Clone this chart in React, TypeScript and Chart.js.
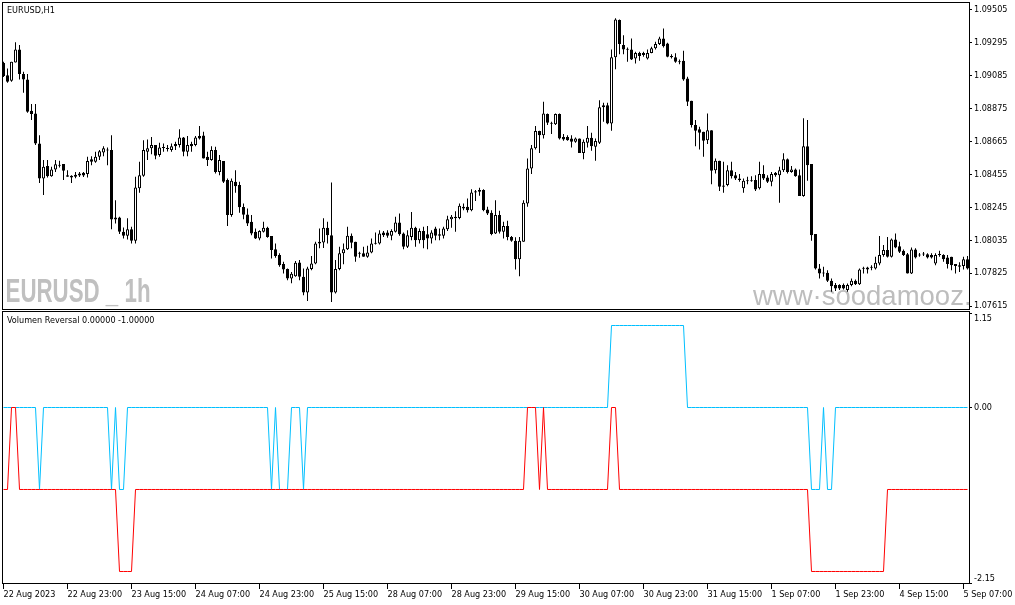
import React, { useEffect, useRef } from "react";
import { Chart, registerables } from "chart.js";

Chart.register(...registerables);

const AXIS_FONT = '"DejaVu Sans Condensed", "DejaVu Sans", sans-serif';

const symbolTitle = "EURUSD,H1";
const indicatorTitle = "Volumen Reversal 0.00000 -1.00000";
const watermarkLeft = "EURUSD _ 1h";
const watermarkRight = "www·soodamooz.com";

const timeLabels = [
  "22 Aug 2023", "22 Aug 23:00", "23 Aug 15:00", "24 Aug 07:00", "24 Aug 23:00", "25 Aug 15:00",
  "28 Aug 07:00", "28 Aug 23:00", "29 Aug 15:00", "30 Aug 07:00", "30 Aug 23:00", "31 Aug 15:00",
  "1 Sep 07:00", "1 Sep 23:00", "4 Sep 15:00", "5 Sep 07:00",
];
const timeLabelBars = [0, 16, 32, 48, 64, 80, 96, 112, 128, 144, 160, 176, 192, 208, 224, 240];

const priceTicks = [1.07615, 1.07825, 1.08035, 1.08245, 1.08455, 1.08665, 1.08875, 1.09085, 1.09295, 1.09505];
const indicatorTicks = [1.15, 0, -2.15];

const openPrices = [
  1.09163, 1.09086, 1.09050, 1.09167, 1.09250, 1.09093, 1.09059, 1.08859, 1.08842, 1.08651,
  1.08428, 1.08507, 1.08443, 1.08486, 1.08513, 1.08520, 1.08449, 1.08445, 1.08439, 1.08447,
  1.08464, 1.08456, 1.08550, 1.08534, 1.08566, 1.08594, 1.08612, 1.08609, 1.08167, 1.08180,
  1.08088, 1.08063, 1.08104, 1.08031, 1.08365, 1.08445, 1.08598, 1.08620, 1.08641, 1.08577,
  1.08626, 1.08620, 1.08609, 1.08647, 1.08641, 1.08689, 1.08598, 1.08647, 1.08641, 1.08698,
  1.08702, 1.08566, 1.08545, 1.08609, 1.08470, 1.08539, 1.08418, 1.08195, 1.08407, 1.08386,
  1.08246, 1.08199, 1.08152, 1.08088, 1.08046, 1.08088, 1.08114, 1.08061, 1.07978, 1.07940,
  1.07884, 1.07851, 1.07791, 1.07806, 1.07893, 1.07802, 1.07702, 1.07851, 1.07887, 1.08014,
  1.08021, 1.08114, 1.08067, 1.07702, 1.07851, 1.07951, 1.07978, 1.08063, 1.08025, 1.07949,
  1.07951, 1.07929, 1.07957, 1.08014, 1.08014, 1.08084, 1.08084, 1.08063, 1.08088, 1.08148,
  1.08078, 1.07993, 1.08056, 1.08114, 1.08035, 1.08093, 1.08072, 1.08046, 1.08110, 1.08072,
  1.08063, 1.08105, 1.08169, 1.08174, 1.08177, 1.08248, 1.08248, 1.08226, 1.08339, 1.08343,
  1.08354, 1.08231, 1.08209, 1.08078, 1.08195, 1.08088, 1.08125, 1.08056, 1.08031, 1.07913,
  1.08025, 1.08269, 1.08492, 1.08620, 1.08730, 1.08704, 1.08838, 1.08781, 1.08774, 1.08838,
  1.08693, 1.08693, 1.08683, 1.08662, 1.08683, 1.08591, 1.08655, 1.08687, 1.08630, 1.08655,
  1.08881, 1.08895, 1.08779, 1.09200, 1.09437, 1.09278, 1.09250, 1.09250, 1.09193, 1.09228,
  1.09214, 1.09193, 1.09228, 1.09257, 1.09284, 1.09320, 1.09288, 1.09208, 1.09200, 1.09171,
  1.09178, 1.09065, 1.08923, 1.08768, 1.08741, 1.08725, 1.08672, 1.08736, 1.08481, 1.08541,
  1.08375, 1.08386, 1.08481, 1.08449, 1.08428, 1.08365, 1.08413, 1.08411, 1.08418, 1.08365,
  1.08456, 1.08435, 1.08407, 1.08464, 1.08449, 1.08481, 1.08550, 1.08470, 1.08486, 1.08449,
  1.08316, 1.08634, 1.08520, 1.08074, 1.07855, 1.07823, 1.07827, 1.07776, 1.07749, 1.07749,
  1.07749, 1.07717, 1.07749, 1.07776, 1.07755, 1.07853, 1.07849, 1.07861, 1.07855, 1.07887,
  1.07940, 1.07972, 1.07929, 1.08040, 1.07997, 1.07967, 1.07946, 1.07823, 1.07976, 1.07942,
  1.07944, 1.07946, 1.07940, 1.07887, 1.07940, 1.07940, 1.07925, 1.07929, 1.07883, 1.07865,
  1.07870, 1.07913,
];

const highPrices = [
  1.09171, 1.09129, 1.09171, 1.09295, 1.09278, 1.09108, 1.09093, 1.08902, 1.08902, 1.08704,
  1.08545, 1.08545, 1.08502, 1.08545, 1.08541, 1.08520, 1.08481, 1.08449, 1.08469, 1.08470,
  1.08470, 1.08566, 1.08570, 1.08598, 1.08609, 1.08634, 1.08626, 1.08704, 1.08290, 1.08184,
  1.08116, 1.08174, 1.08120, 1.08439, 1.08534, 1.08672, 1.08677, 1.08693, 1.08641, 1.08655,
  1.08651, 1.08641, 1.08651, 1.08662, 1.08741, 1.08693, 1.08698, 1.08662, 1.08698, 1.08762,
  1.08725, 1.08598, 1.08634, 1.08630, 1.08577, 1.08539, 1.08428, 1.08428, 1.08481, 1.08407,
  1.08269, 1.08237, 1.08195, 1.08110, 1.08099, 1.08152, 1.08120, 1.08061, 1.08014, 1.07951,
  1.07897, 1.07855, 1.07833, 1.07902, 1.07908, 1.07855, 1.07865, 1.07935, 1.08025, 1.08110,
  1.08174, 1.08152, 1.08403, 1.07908, 1.07993, 1.08014, 1.08120, 1.08078, 1.08025, 1.07961,
  1.07993, 1.07999, 1.08046, 1.08084, 1.08099, 1.08093, 1.08099, 1.08105, 1.08184, 1.08205,
  1.08084, 1.08099, 1.08215, 1.08120, 1.08110, 1.08120, 1.08126, 1.08099, 1.08120, 1.08110,
  1.08120, 1.08190, 1.08195, 1.08220, 1.08269, 1.08269, 1.08301, 1.08360, 1.08354, 1.08369,
  1.08360, 1.08248, 1.08226, 1.08290, 1.08222, 1.08152, 1.08159, 1.08061, 1.08053, 1.08056,
  1.08290, 1.08556, 1.08641, 1.08762, 1.08732, 1.08916, 1.08842, 1.08789, 1.08842, 1.08842,
  1.08711, 1.08704, 1.08704, 1.08689, 1.08683, 1.08677, 1.08762, 1.08719, 1.08683, 1.08927,
  1.08910, 1.08910, 1.09250, 1.09448, 1.09441, 1.09341, 1.09263, 1.09320, 1.09235, 1.09235,
  1.09235, 1.09250, 1.09267, 1.09299, 1.09330, 1.09384, 1.09292, 1.09220, 1.09225, 1.09186,
  1.09241, 1.09076, 1.08923, 1.08800, 1.08757, 1.08725, 1.08842, 1.08736, 1.08556, 1.08541,
  1.08534, 1.08513, 1.08534, 1.08470, 1.08456, 1.08428, 1.08439, 1.08443, 1.08449, 1.08534,
  1.08513, 1.08449, 1.08470, 1.08470, 1.08502, 1.08588, 1.08556, 1.08507, 1.08492, 1.08486,
  1.08811, 1.08800, 1.08520, 1.08074, 1.07883, 1.07865, 1.07844, 1.07791, 1.07763, 1.07755,
  1.07759, 1.07759, 1.07791, 1.07785, 1.07855, 1.07865, 1.07865, 1.07876, 1.07929, 1.08061,
  1.08004, 1.08056, 1.08046, 1.08078, 1.08025, 1.07976, 1.07954, 1.07988, 1.07983, 1.07954,
  1.07959, 1.07951, 1.07951, 1.07951, 1.07967, 1.07946, 1.07940, 1.07929, 1.07883, 1.07895,
  1.07929, 1.07934,
];

const lowPrices = [
  1.09074, 1.09037, 1.09044, 1.09167, 1.09059, 1.08974, 1.08846, 1.08800, 1.08641, 1.08400,
  1.08322, 1.08435, 1.08439, 1.08470, 1.08498, 1.08418, 1.08439, 1.08400, 1.08430, 1.08437,
  1.08437, 1.08435, 1.08513, 1.08528, 1.08545, 1.08570, 1.08513, 1.08104, 1.08142, 1.08074,
  1.08046, 1.08040, 1.08014, 1.08014, 1.08337, 1.08439, 1.08545, 1.08583, 1.08551, 1.08566,
  1.08598, 1.08600, 1.08598, 1.08609, 1.08626, 1.08570, 1.08570, 1.08598, 1.08634, 1.08677,
  1.08556, 1.08507, 1.08541, 1.08460, 1.08449, 1.08400, 1.08125, 1.08184, 1.08337, 1.08209,
  1.08169, 1.08126, 1.08067, 1.08042, 1.08035, 1.08084, 1.08050, 1.07919, 1.07923, 1.07865,
  1.07823, 1.07780, 1.07760, 1.07802, 1.07780, 1.07685, 1.07647, 1.07844, 1.07881, 1.07983,
  1.07986, 1.08014, 1.07642, 1.07695, 1.07844, 1.07881, 1.07972, 1.07983, 1.07897, 1.07923,
  1.07929, 1.07923, 1.07951, 1.08008, 1.08008, 1.08056, 1.08050, 1.08035, 1.08084, 1.08063,
  1.07978, 1.07986, 1.08035, 1.07993, 1.08014, 1.07983, 1.07978, 1.08014, 1.08035, 1.08035,
  1.08046, 1.08093, 1.08114, 1.08088, 1.08169, 1.08226, 1.08212, 1.08220, 1.08284, 1.08318,
  1.08220, 1.08195, 1.08067, 1.08074, 1.08078, 1.08046, 1.08035, 1.08025, 1.07849, 1.07806,
  1.08025, 1.08248, 1.08456, 1.08613, 1.08591, 1.08683, 1.08768, 1.08711, 1.08768, 1.08677,
  1.08668, 1.08668, 1.08626, 1.08655, 1.08591, 1.08550, 1.08626, 1.08604, 1.08541, 1.08647,
  1.08789, 1.08774, 1.08732, 1.09123, 1.09220, 1.09220, 1.09171, 1.09182, 1.09161, 1.09178,
  1.09203, 1.09186, 1.09225, 1.09250, 1.09278, 1.09263, 1.09200, 1.09193, 1.09165, 1.09156,
  1.09050, 1.08889, 1.08753, 1.08634, 1.08613, 1.08566, 1.08647, 1.08392, 1.08460, 1.08349,
  1.08337, 1.08379, 1.08428, 1.08418, 1.08407, 1.08337, 1.08392, 1.08407, 1.08349, 1.08358,
  1.08418, 1.08400, 1.08379, 1.08439, 1.08273, 1.08470, 1.08460, 1.08464, 1.08439, 1.08316,
  1.08311, 1.08413, 1.08031, 1.07849, 1.07791, 1.07802, 1.07769, 1.07706, 1.07712, 1.07717,
  1.07721, 1.07706, 1.07742, 1.07749, 1.07749, 1.07823, 1.07823, 1.07844, 1.07849, 1.07876,
  1.07929, 1.07925, 1.07925, 1.07983, 1.07954, 1.07934, 1.07823, 1.07819, 1.07919, 1.07929,
  1.07934, 1.07919, 1.07919, 1.07876, 1.07929, 1.07897, 1.07855, 1.07844, 1.07823, 1.07832,
  1.07849, 1.07849,
];

const closePrices = [
  1.09080, 1.09044, 1.09171, 1.09250, 1.09093, 1.09059, 1.08853, 1.08838, 1.08651, 1.08428,
  1.08502, 1.08443, 1.08486, 1.08518, 1.08509, 1.08477, 1.08439, 1.08435, 1.08451, 1.08460,
  1.08447, 1.08539, 1.08534, 1.08566, 1.08602, 1.08620, 1.08606, 1.08167, 1.08180, 1.08088,
  1.08063, 1.08104, 1.08031, 1.08371, 1.08449, 1.08609, 1.08620, 1.08641, 1.08572, 1.08626,
  1.08622, 1.08616, 1.08634, 1.08634, 1.08689, 1.08598, 1.08641, 1.08634, 1.08689, 1.08683,
  1.08556, 1.08545, 1.08609, 1.08470, 1.08545, 1.08407, 1.08195, 1.08413, 1.08379, 1.08244,
  1.08197, 1.08142, 1.08078, 1.08046, 1.08093, 1.08114, 1.08056, 1.07972, 1.07935, 1.07876,
  1.07849, 1.07791, 1.07821, 1.07891, 1.07802, 1.07702, 1.07855, 1.07887, 1.08014, 1.08025,
  1.08114, 1.08067, 1.07702, 1.07851, 1.07951, 1.07978, 1.08063, 1.08018, 1.07929, 1.07953,
  1.07929, 1.07957, 1.08014, 1.08012, 1.08078, 1.08067, 1.08063, 1.08093, 1.08148, 1.08072,
  1.07993, 1.08067, 1.08114, 1.08035, 1.08093, 1.08035, 1.08046, 1.08084, 1.08063, 1.08063,
  1.08110, 1.08169, 1.08184, 1.08184, 1.08254, 1.08237, 1.08226, 1.08339, 1.08347, 1.08354,
  1.08226, 1.08205, 1.08074, 1.08195, 1.08088, 1.08125, 1.08056, 1.08031, 1.07913, 1.08031,
  1.08273, 1.08492, 1.08620, 1.08730, 1.08704, 1.08842, 1.08783, 1.08777, 1.08838, 1.08683,
  1.08677, 1.08672, 1.08662, 1.08683, 1.08591, 1.08662, 1.08687, 1.08634, 1.08666, 1.08881,
  1.08895, 1.08779, 1.09200, 1.09441, 1.09284, 1.09250, 1.09248, 1.09186, 1.09228, 1.09208,
  1.09228, 1.09228, 1.09257, 1.09284, 1.09320, 1.09271, 1.09203, 1.09200, 1.09171, 1.09169,
  1.09059, 1.08916, 1.08768, 1.08732, 1.08719, 1.08668, 1.08736, 1.08477, 1.08541, 1.08375,
  1.08383, 1.08481, 1.08443, 1.08428, 1.08418, 1.08413, 1.08411, 1.08413, 1.08358, 1.08456,
  1.08428, 1.08407, 1.08456, 1.08449, 1.08481, 1.08550, 1.08470, 1.08486, 1.08443, 1.08316,
  1.08634, 1.08513, 1.08067, 1.07855, 1.07823, 1.07827, 1.07776, 1.07742, 1.07728, 1.07728,
  1.07728, 1.07749, 1.07776, 1.07755, 1.07849, 1.07855, 1.07861, 1.07859, 1.07891, 1.07940,
  1.07972, 1.07929, 1.08040, 1.07988, 1.07961, 1.07940, 1.07823, 1.07976, 1.07925, 1.07938,
  1.07948, 1.07925, 1.07925, 1.07940, 1.07942, 1.07913, 1.07883, 1.07876, 1.07870, 1.07876,
  1.07913, 1.07855,
];

// Volumen Reversal buffers (cyan and red)
const reversalUp = [
  0, 0, 0, 0, 0, 0, 0, 0, 0, -1, 0, 0, 0, 0, 0, 0,
  0, 0, 0, 0, 0, 0, 0, 0, 0, 0, 0, -1, 0, -1, -1, 0,
  0, 0, 0, 0, 0, 0, 0, 0, 0, 0, 0, 0, 0, 0, 0, 0,
  0, 0, 0, 0, 0, 0, 0, 0, 0, 0, 0, 0, 0, 0, 0, 0,
  0, 0, 0, -1, 0, -1, -1, -1, 0, 0, 0, -1, 0, 0, 0, 0,
  0, 0, 0, 0, 0, 0, 0, 0, 0, 0, 0, 0, 0, 0, 0, 0,
  0, 0, 0, 0, 0, 0, 0, 0, 0, 0, 0, 0, 0, 0, 0, 0,
  0, 0, 0, 0, 0, 0, 0, 0, 0, 0, 0, 0, 0, 0, 0, 0,
  0, 0, 0, 0, 0, 0, 0, 0, 0, 0, 0, 0, 0, 0, 0, 0,
  0, 0, 0, 0, 0, 0, 0, 0, 1, 1, 1, 1, 1, 1, 1, 1,
  1, 1, 1, 1, 1, 1, 1, 1, 1, 1, 1, 0, 0, 0, 0, 0,
  0, 0, 0, 0, 0, 0, 0, 0, 0, 0, 0, 0, 0, 0, 0, 0,
  0, 0, 0, 0, 0, 0, 0, 0, 0, 0, -1, -1, -1, 0, -1, -1,
  0, 0, 0, 0, 0, 0, 0, 0, 0, 0, 0, 0, 0, 0, 0, 0,
  0, 0, 0, 0, 0, 0, 0, 0, 0, 0, 0, 0, 0, 0, 0, 0,
  0, 0,
];

const reversalDown = [
  -1, -1, 0, 0, -1, -1, -1, -1, -1, -1, -1, -1, -1, -1, -1, -1,
  -1, -1, -1, -1, -1, -1, -1, -1, -1, -1, -1, -1, -1, -2, -2, -2,
  -2, -1, -1, -1, -1, -1, -1, -1, -1, -1, -1, -1, -1, -1, -1, -1,
  -1, -1, -1, -1, -1, -1, -1, -1, -1, -1, -1, -1, -1, -1, -1, -1,
  -1, -1, -1, -1, -1, -1, -1, -1, -1, -1, -1, -1, -1, -1, -1, -1,
  -1, -1, -1, -1, -1, -1, -1, -1, -1, -1, -1, -1, -1, -1, -1, -1,
  -1, -1, -1, -1, -1, -1, -1, -1, -1, -1, -1, -1, -1, -1, -1, -1,
  -1, -1, -1, -1, -1, -1, -1, -1, -1, -1, -1, -1, -1, -1, -1, -1,
  -1, -1, -1, 0, 0, 0, -1, 0, -1, -1, -1, -1, -1, -1, -1, -1,
  -1, -1, -1, -1, -1, -1, -1, -1, 0, 0, -1, -1, -1, -1, -1, -1,
  -1, -1, -1, -1, -1, -1, -1, -1, -1, -1, -1, -1, -1, -1, -1, -1,
  -1, -1, -1, -1, -1, -1, -1, -1, -1, -1, -1, -1, -1, -1, -1, -1,
  -1, -1, -1, -1, -1, -1, -1, -1, -1, -1, -2, -2, -2, -2, -2, -2,
  -2, -2, -2, -2, -2, -2, -2, -2, -2, -2, -2, -2, -2, -1, -1, -1,
  -1, -1, -1, -1, -1, -1, -1, -1, -1, -1, -1, -1, -1, -1, -1, -1,
  -1, -1,
];

const X_MIN = -0.375;
const X_MAX = 241.375;

function drawFrame(chart: any) {
  const { ctx, chartArea: a } = chart;
  ctx.save();
  ctx.strokeStyle = "#000000";
  ctx.lineWidth = 1;
  ctx.strokeRect(a.left + 0.5, a.top + 0.5, a.right - a.left, a.bottom - a.top - 1);
  ctx.restore();
}

function drawTitle(chart: any, text: string, y: number) {
  const { ctx } = chart;
  ctx.save();
  ctx.font = `9px ${AXIS_FONT}`;
  ctx.fillStyle = "#000000";
  ctx.textAlign = "left";
  ctx.textBaseline = "middle";
  ctx.fillText(text, 7, y);
  ctx.restore();
}

const mainDecor = {
  id: "mainDecor",
  beforeDatasetsDraw(chart: any) {
    const { ctx, chartArea: a } = chart;
    ctx.save();
    ctx.beginPath();
    ctx.rect(a.left + 1, a.top + 1, a.right - a.left - 1, a.bottom - a.top - 2);
    ctx.clip();
    // left watermark
    ctx.save();
    ctx.font = 'bold 33px "Liberation Sans", Arial, sans-serif';
    ctx.fillStyle = "#c0c0c0";
    ctx.textBaseline = "alphabetic";
    ctx.textAlign = "left";
    const w = ctx.measureText(watermarkLeft).width;
    ctx.translate(5.5, 302);
    ctx.scale(145 / w, 1);
    ctx.fillText(watermarkLeft, 0, 0);
    ctx.restore();
    // right watermark
    ctx.save();
    ctx.font = '27.5px "Liberation Sans", Arial, sans-serif';
    ctx.fillStyle = "#bdbdbd";
    ctx.textBaseline = "alphabetic";
    ctx.textAlign = "left";
    ctx.fillText(watermarkRight, 753, 305);
    ctx.restore();
    ctx.restore();
  },
  afterDraw(chart: any) {
    drawFrame(chart);
    drawTitle(chart, symbolTitle, 10.5);
  },
};

const indicatorDecor = {
  id: "indicatorDecor",
  afterDraw(chart: any) {
    drawFrame(chart);
    drawTitle(chart, indicatorTitle, 9.5);
  },
};

function mainConfig(): any {
  const bodies = openPrices.map((o, i) => ({ x: i, y: [o, closePrices[i]] }));
  const wicks = openPrices.map((_o, i) => ({ x: i, y: [lowPrices[i], highPrices[i]] }));
  const bodyFill = openPrices.map((o, i) => (closePrices[i] > o ? "#ffffff" : "#000000"));
  return {
    type: "bar",
    data: {
      datasets: [
        {
          label: "body",
          data: bodies,
          backgroundColor: bodyFill,
          borderColor: "#000000",
          borderWidth: 1,
          borderSkipped: false,
          barThickness: 3,
          grouped: false,
          minBarLength: 1,
          inflateAmount: 0,
          order: 0,
        },
        {
          label: "wick",
          data: wicks,
          backgroundColor: "#000000",
          borderWidth: 0,
          barThickness: 1,
          grouped: false,
          inflateAmount: 0,
          order: 1,
        },
      ],
    },
    options: {
      animation: false,
      responsive: false,
      maintainAspectRatio: false,
      devicePixelRatio: 1,
      events: [],
      layout: { padding: { left: 2, top: 2, right: 0, bottom: 1 } },
      plugins: { legend: { display: false }, tooltip: { enabled: false }, title: { display: false } },
      scales: {
        x: { type: "linear", min: X_MIN, max: X_MAX, display: false, offset: false },
        y: {
          type: "linear",
          position: "right",
          min: 1.075903,
          max: 1.095521,
          afterBuildTicks: (s: any) => {
            s.ticks = priceTicks.map((v) => ({ value: v }));
          },
          afterFit: (s: any) => {
            s.width = 46;
            s.paddingTop = 0;
            s.paddingBottom = 0;
          },
          border: { display: false },
          grid: { display: true, drawOnChartArea: false, drawTicks: true, tickLength: 3, color: "#000000" },
          ticks: {
            autoSkip: false,
            padding: 2,
            color: "#000000",
            font: { family: AXIS_FONT, size: 9 },
            callback: (v: any) => Number(v).toFixed(5),
          },
        },
      },
    },
    plugins: [mainDecor],
  };
}

function indicatorConfig(): any {
  return {
    type: "line",
    data: {
      datasets: [
        {
          label: "down",
          data: reversalDown.map((v, i) => ({ x: i, y: v })),
          borderColor: "#ff0000",
          borderWidth: 1,
          pointRadius: 0,
          tension: 0,
          fill: false,
        },
        {
          label: "up",
          data: reversalUp.map((v, i) => ({ x: i, y: v })),
          borderColor: "rgb(0,191,255)",
          borderWidth: 1,
          pointRadius: 0,
          tension: 0,
          fill: false,
        },
      ],
    },
    options: {
      animation: false,
      responsive: false,
      maintainAspectRatio: false,
      devicePixelRatio: 1,
      events: [],
      layout: { padding: { left: 2, top: 0, right: 0, bottom: 0 } },
      plugins: { legend: { display: false }, tooltip: { enabled: false }, title: { display: false } },
      scales: {
        x: {
          type: "linear",
          position: "bottom",
          min: X_MIN,
          max: X_MAX,
          offset: false,
          afterBuildTicks: (s: any) => {
            s.ticks = timeLabelBars.map((v) => ({ value: v }));
          },
          afterFit: (s: any) => {
            s.height = 21;
            s.paddingLeft = 0;
            s.paddingRight = 0;
          },
          border: { display: false },
          grid: { display: true, drawOnChartArea: false, drawTicks: true, tickLength: 5, color: "#000000" },
          ticks: {
            autoSkip: false,
            maxRotation: 0,
            minRotation: 0,
            align: "start",
            padding: 0,
            color: "#000000",
            font: { family: AXIS_FONT, size: 9 },
            callback: (v: any) => {
              const k = timeLabelBars.indexOf(Number(v));
              return k >= 0 ? timeLabels[k] : "";
            },
          },
        },
        y: {
          type: "linear",
          position: "right",
          min: -2.15244,
          max: 1.17683,
          afterBuildTicks: (s: any) => {
            s.ticks = indicatorTicks.map((v) => ({ value: v }));
          },
          afterFit: (s: any) => {
            s.width = 46;
            s.paddingTop = 0;
            s.paddingBottom = 0;
          },
          border: { display: false },
          grid: { display: true, drawOnChartArea: false, drawTicks: true, tickLength: 3, color: "#000000" },
          ticks: {
            autoSkip: false,
            padding: 2,
            color: "#000000",
            font: { family: AXIS_FONT, size: 9 },
            callback: (v: any) => {
              const s = Number(v).toFixed(2);
              if (Number(v) === indicatorTicks[0]) return ["", s];
              if (Number(v) === indicatorTicks[indicatorTicks.length - 1]) return [s, ""];
              return s;
            },
          },
        },
      },
    },
    plugins: [indicatorDecor],
  };
}

export default function App() {
  const mainRef = useRef<HTMLCanvasElement | null>(null);
  const indRef = useRef<HTMLCanvasElement | null>(null);

  useEffect(() => {
    const c1 = new Chart(mainRef.current as HTMLCanvasElement, mainConfig());
    const c2 = new Chart(indRef.current as HTMLCanvasElement, indicatorConfig());
    return () => {
      c1.destroy();
      c2.destroy();
    };
  }, []);

  return (
    <div
      style={{
        position: "absolute",
        left: 0,
        top: 0,
        width: 1015,
        height: 605,
        background: "#ffffff",
        overflow: "hidden",
      }}
    >
      <canvas
        ref={mainRef}
        width={1015}
        height={311}
        style={{ position: "absolute", left: 0, top: 0, display: "block", width: 1015, height: 311 }}
      />
      <canvas
        ref={indRef}
        width={1015}
        height={294}
        style={{ position: "absolute", left: 0, top: 311, display: "block", width: 1015, height: 294 }}
      />
    </div>
  );
}
